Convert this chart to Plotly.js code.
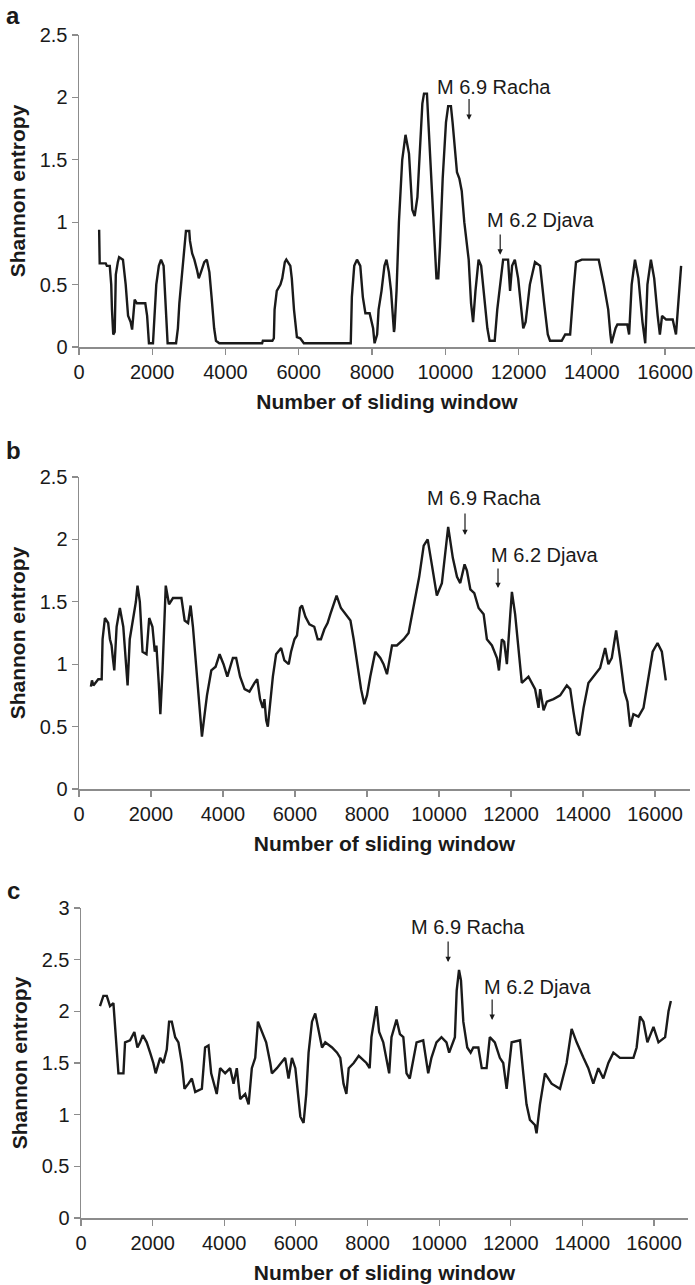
<!DOCTYPE html>
<html>
<head>
<meta charset="utf-8">
<script src="https://cdn.plot.ly/plotly-3.0.1.min.js"></script>
<style>
html,body{margin:0;padding:0;background:#fff;}
#chart{width:695px;height:1285px;}
</style>
</head>
<body>
<div id="chart"></div>
<script>
// Panel a: Shannon entropy vs number of sliding window
const aX = [550,565,730,760,840,880,900,915,935,975,1005,1060,1095,1200,1240,1275,1340,1410,1450,1490,1520,1580,1810,1860,1890,1910,2020,2070,2110,2180,2240,2310,2350,2380,2420,2650,2700,2740,2810,2890,2920,3010,3030,3090,3150,3220,3270,3330,3380,3420,3490,3560,3620,3690,3740,3830,5000,5020,5280,5320,5340,5400,5500,5550,5620,5660,5770,5810,5870,5950,6040,6140,7420,7450,7515,7590,7680,7750,7820,7935,8030,8070,8140,8180,8260,8340,8395,8460,8520,8580,8600,8615,8670,8735,8825,8915,9010,9100,9165,9240,9310,9375,9420,9500,9540,9625,9715,9760,9810,9855,9930,10020,10080,10155,10200,10265,10320,10385,10450,10520,10640,10705,10760,10825,10910,10980,11055,11150,11210,11350,11420,11515,11580,11715,11745,11770,11825,11900,11990,12065,12130,12195,12310,12450,12590,12700,12800,12860,13180,13275,13410,13500,13570,13730,14190,14330,14450,14510,14540,14650,14700,14970,15020,15090,15180,15275,15385,15460,15520,15615,15705,15800,15860,15920,16030,16210,16300,16350,16410,16440];
const aY = [0.94,0.67,0.67,0.65,0.65,0.5,0.3,0.12,0.1,0.12,0.58,0.68,0.72,0.7,0.6,0.5,0.25,0.2,0.14,0.3,0.38,0.35,0.35,0.25,0.1,0.03,0.03,0.25,0.5,0.65,0.7,0.65,0.45,0.2,0.03,0.03,0.15,0.35,0.6,0.85,0.93,0.93,0.85,0.75,0.7,0.62,0.55,0.6,0.65,0.68,0.7,0.6,0.4,0.15,0.05,0.03,0.03,0.05,0.05,0.07,0.3,0.45,0.5,0.55,0.68,0.7,0.65,0.55,0.3,0.08,0.07,0.03,0.03,0.4,0.65,0.7,0.65,0.4,0.27,0.27,0.15,0.03,0.1,0.3,0.45,0.65,0.7,0.6,0.45,0.2,0.12,0.15,0.45,1.0,1.5,1.7,1.55,1.1,1.05,1.2,1.65,1.95,2.03,2.03,1.8,1.3,0.8,0.55,0.55,0.8,1.35,1.8,1.93,1.93,1.8,1.6,1.4,1.35,1.25,1.0,0.7,0.35,0.2,0.45,0.7,0.65,0.45,0.15,0.05,0.05,0.3,0.55,0.7,0.7,0.5,0.45,0.65,0.7,0.55,0.3,0.15,0.2,0.5,0.68,0.65,0.35,0.1,0.05,0.05,0.1,0.1,0.45,0.68,0.7,0.7,0.5,0.3,0.1,0.03,0.15,0.18,0.18,0.1,0.5,0.7,0.55,0.2,0.03,0.5,0.7,0.55,0.25,0.1,0.25,0.22,0.22,0.1,0.3,0.6,0.65];

// Panel b
const bX = [330,360,400,490,535,630,655,720,810,860,905,940,980,1045,1135,1230,1290,1350,1410,1505,1580,1625,1690,1765,1875,1950,2040,2105,2150,2215,2260,2320,2410,2500,2610,2845,2935,3030,3100,3165,3260,3350,3415,3490,3555,3675,3795,3905,4015,4120,4275,4365,4475,4600,4735,4875,4950,5030,5105,5150,5200,5245,5310,5385,5475,5615,5705,5825,5890,5985,6055,6140,6195,6290,6400,6535,6630,6720,6815,6905,6980,7070,7155,7275,7400,7540,7630,7770,7835,7925,8000,8090,8230,8370,8460,8555,8695,8830,9020,9155,9295,9450,9575,9685,9800,9940,10080,10200,10255,10385,10500,10590,10710,10775,10870,10980,11100,11240,11330,11470,11610,11665,11745,11810,11885,11980,12025,12115,12235,12300,12485,12670,12765,12810,12905,12995,13180,13365,13550,13645,13735,13830,13900,14015,14150,14290,14475,14615,14705,14800,14920,15030,15150,15235,15310,15400,15540,15680,15815,15935,16070,16190,16300];
const bY = [0.82,0.87,0.83,0.87,0.88,0.88,1.2,1.37,1.33,1.2,1.15,1.05,0.95,1.3,1.45,1.3,1.05,0.83,1.2,1.35,1.5,1.63,1.5,1.1,1.08,1.37,1.3,1.1,1.15,0.85,0.6,0.95,1.63,1.48,1.53,1.53,1.35,1.33,1.47,1.3,0.95,0.6,0.42,0.6,0.75,0.95,0.98,1.08,1.0,0.9,1.05,1.05,0.9,0.8,0.78,0.85,0.88,0.72,0.65,0.72,0.55,0.5,0.7,0.9,1.08,1.13,1.03,1.0,1.1,1.2,1.23,1.45,1.47,1.38,1.32,1.3,1.2,1.2,1.28,1.33,1.4,1.47,1.55,1.45,1.4,1.35,1.2,0.9,0.8,0.68,0.75,0.9,1.1,1.05,1.0,0.92,1.15,1.15,1.2,1.25,1.45,1.7,1.95,2.0,1.8,1.55,1.65,1.95,2.1,1.85,1.7,1.65,1.8,1.75,1.6,1.57,1.45,1.4,1.2,1.15,1.05,0.95,1.2,1.18,1.0,1.4,1.58,1.4,1.05,0.85,0.9,0.8,0.65,0.8,0.63,0.7,0.72,0.75,0.83,0.8,0.62,0.45,0.43,0.65,0.85,0.9,0.97,1.13,1.0,1.05,1.27,1.05,0.78,0.7,0.5,0.6,0.58,0.65,0.9,1.1,1.17,1.1,0.87];

// Panel c
const cX = [530,625,720,765,810,905,950,1000,1045,1185,1230,1370,1490,1575,1650,1725,1835,1930,2020,2085,2210,2300,2395,2460,2535,2630,2720,2815,2890,3000,3095,3190,3375,3465,3560,3635,3790,3885,4025,4165,4260,4350,4445,4585,4680,4770,4865,4940,5100,5170,5285,5330,5470,5700,5795,5890,5985,6060,6125,6215,6290,6355,6450,6540,6635,6730,6820,7010,7150,7240,7330,7410,7475,7615,7755,7970,8060,8110,8250,8325,8440,8605,8670,8810,8905,9000,9090,9180,9370,9555,9695,9785,9925,10065,10205,10280,10440,10490,10555,10610,10675,10785,10880,10955,11095,11190,11325,11415,11555,11695,11790,11885,12025,12260,12350,12440,12535,12675,12720,12815,12955,13140,13375,13560,13700,13840,14030,14165,14305,14445,14585,14725,14865,15050,15425,15515,15610,15705,15815,15985,16125,16310,16405,16470];
const cY = [2.05,2.15,2.15,2.1,2.05,2.08,1.85,1.6,1.4,1.4,1.7,1.72,1.8,1.65,1.7,1.77,1.7,1.6,1.5,1.4,1.55,1.5,1.63,1.9,1.9,1.75,1.7,1.5,1.25,1.3,1.35,1.22,1.25,1.65,1.67,1.4,1.2,1.45,1.4,1.45,1.3,1.45,1.15,1.2,1.1,1.45,1.55,1.9,1.75,1.7,1.5,1.4,1.45,1.55,1.35,1.55,1.45,1.2,0.98,0.92,1.2,1.6,1.9,1.98,1.8,1.65,1.7,1.65,1.6,1.55,1.3,1.2,1.45,1.5,1.57,1.5,1.45,1.75,2.05,1.8,1.7,1.4,1.75,1.92,1.78,1.75,1.4,1.35,1.7,1.72,1.4,1.55,1.7,1.75,1.7,1.6,1.75,2.2,2.4,2.3,1.9,1.65,1.6,1.65,1.65,1.45,1.45,1.75,1.7,1.55,1.5,1.25,1.7,1.72,1.4,1.1,0.95,0.9,0.82,1.1,1.4,1.3,1.25,1.5,1.83,1.7,1.55,1.45,1.3,1.45,1.35,1.5,1.6,1.55,1.55,1.65,1.95,1.9,1.7,1.85,1.7,1.75,2.0,2.1];

const xTickVals = [0,2000,4000,6000,8000,10000,12000,14000,16000];
const xTickText = ['0','2000','4000','6000','8000','10000','12000','14000','16000'];
const yTickValsAB = [0,0.5,1,1.5,2,2.5];
const yTickTextAB = ['0','0.5','1','1.5','2','2.5'];
const yTickValsC = [0,0.5,1,1.5,2,2.5,3];
const yTickTextC = ['0','0.5','1','1.5','2','2.5','3'];
const panelLabels = ['a','b','c'];
const xTitle = 'Number of sliding window';
const yTitle = 'Shannon entropy';
const quakeLabels = ['M 6.9 Racha','M 6.2 Djava'];

const W = 695, H = 1285;
const FONT = 'Liberation Sans, Arial, Helvetica, sans-serif';
const lineStyle = {color:'#1a1a1a', width:2.4};
const traces = [
  {x:aX, y:aY, xaxis:'x', yaxis:'y', type:'scatter', mode:'lines', line:lineStyle, hoverinfo:'skip'},
  {x:bX, y:bY, xaxis:'x2', yaxis:'y2', type:'scatter', mode:'lines', line:lineStyle, hoverinfo:'skip'},
  {x:cX, y:cY, xaxis:'x3', yaxis:'y3', type:'scatter', mode:'lines', line:lineStyle, hoverinfo:'skip'}
];

function xAx(x0, x1, maxVal){
  return {
    domain:[x0/W, x1/W], range:[0, maxVal], showline:true, linecolor:'#8c8c8c', linewidth:1.5,
    ticks:'outside', ticklen:6, tickcolor:'#8c8c8c', tickwidth:1.2, showgrid:false, zeroline:false,
    tickmode:'array', tickvals:xTickVals, ticktext:xTickText,
    tickfont:{family:FONT, size:20, color:'#1a1a1a'},
    title:{text:xTitle, font:{family:FONT, size:21, color:'#1a1a1a', weight:'bold'}, standoff:13},
    automargin:false, fixedrange:true
  };
}
function yAx(yTop, yBot, maxVal, vals, text){
  return {
    domain:[1 - yBot/H, 1 - yTop/H], range:[0, maxVal], showline:true, linecolor:'#8c8c8c', linewidth:1.5,
    ticks:'outside', ticklen:6, tickcolor:'#8c8c8c', tickwidth:1.2, showgrid:false, zeroline:false,
    tickmode:'array', tickvals:vals, ticktext:text,
    tickfont:{family:FONT, size:20, color:'#1a1a1a'},
    title:{text:yTitle, font:{family:FONT, size:21, color:'#1a1a1a', weight:'bold'}, standoff:8},
    automargin:false, fixedrange:true
  };
}

const annotations = [];
// panel letters
[[13,16],[14,451],[14,890]].forEach((p,i)=>{
  annotations.push({xref:'paper', yref:'paper', x:p[0]/W, y:1-p[1]/H, text:panelLabels[i], showarrow:false,
    xanchor:'center', yanchor:'middle', font:{family:FONT, size:24, color:'#1a1a1a', weight:'bold'}});
});
// earthquake markers: [xref,yref, textX,textY, arrowX, tailY, headY, labelIndex]
const marks = [
  ['x','y', 11331,2.083, 10650,2.0,1.82, 0],
  ['x','y', 12614,1.018, 11500,0.913,0.74, 1],
  ['x2','y2', 11250,2.332, 10722,2.22,2.035, 0],
  ['x2','y2', 12944,1.875, 11639,1.779,1.61, 1],
  ['x3','y3', 10806,2.816, 10251,2.69,2.477, 0],
  ['x3','y3', 12761,2.236, 11480,2.129,1.916, 1]
];
marks.forEach(m=>{
  annotations.push({xref:m[0], yref:m[1], x:m[2], y:m[3], text:quakeLabels[m[7]], showarrow:false,
    xanchor:'center', yanchor:'middle', font:{family:FONT, size:20, color:'#1a1a1a'}});
  annotations.push({xref:m[0], yref:m[1], x:m[4], y:m[6], axref:m[0], ayref:m[1], ax:m[4], ay:m[5],
    text:'', showarrow:true, arrowhead:2, arrowsize:0.9, arrowwidth:1.2, arrowcolor:'#1a1a1a', standoff:0, startstandoff:0});
});

const layout = {
  width:W, height:H, margin:{l:0,r:0,t:0,b:0}, paper_bgcolor:'#ffffff', plot_bgcolor:'#ffffff',
  showlegend:false, font:{family:FONT, color:'#1a1a1a'},
  xaxis: Object.assign(xAx(79, 695, 16819), {anchor:'y'}),
  yaxis: Object.assign(yAx(35, 347, 2.5, yTickValsAB, yTickTextAB), {anchor:'x'}),
  xaxis2: Object.assign(xAx(79, 690, 16972), {anchor:'y2'}),
  yaxis2: Object.assign(yAx(477, 789, 2.5, yTickValsAB, yTickTextAB), {anchor:'x2'}),
  xaxis3: Object.assign(xAx(81, 688, 16949), {anchor:'y3'}),
  yaxis3: Object.assign(yAx(908, 1218, 3, yTickValsC, yTickTextC), {anchor:'x3'}),
  annotations: annotations
};

Plotly.newPlot('chart', traces, layout, {displayModeBar:false, staticPlot:true});
</script>
</body>
</html>
